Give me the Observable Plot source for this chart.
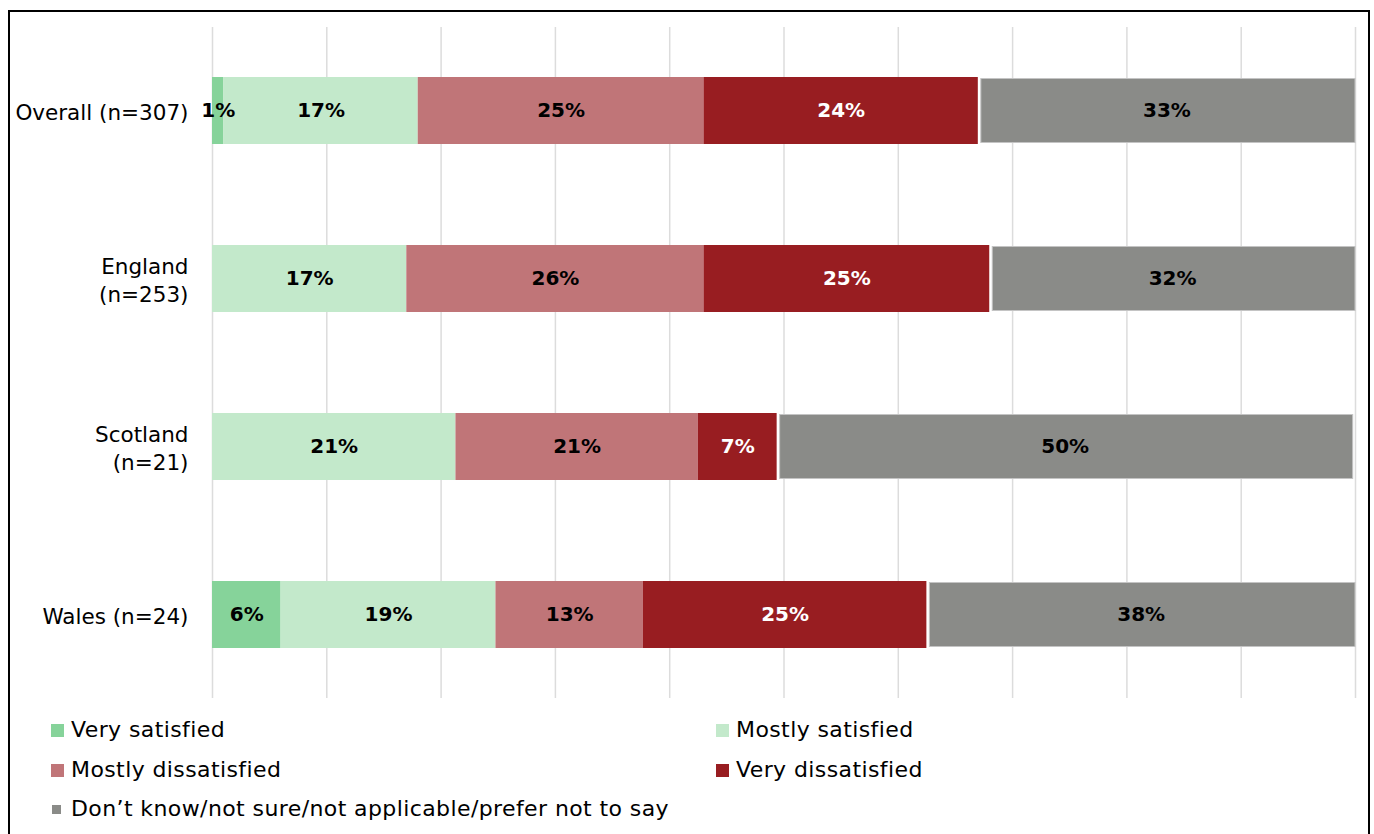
<!DOCTYPE html>
<html><head><meta charset="utf-8">
<script src="https://cdn.jsdelivr.net/npm/d3@7"></script>
<script src="https://cdn.jsdelivr.net/npm/@observablehq/plot@0.6"></script>
<style>
body{margin:0;background:#fff;font-family:"DejaVu Sans",sans-serif;}
#frame{position:absolute;left:8px;top:10px;width:1362px;height:840px;border:2px solid #000;box-sizing:border-box;}
#chart{position:absolute;left:0;top:0;}
.leg{position:absolute;font-size:22px;letter-spacing:0.4px;line-height:26px;color:#000;white-space:nowrap;transform:translateY(-50%);display:flex;align-items:center;}
.sw{display:inline-block;width:13px;height:13px;margin-right:7px;}
</style></head><body>
<div id="frame"></div>
<div id="chart"></div>
<div id="legend"></div>
<script>
const groups = ["Overall (n=307)", "England (n=253)", "Scotland (n=21)", "Wales (n=24)"];
const groupLabels = ["Overall (n=307)", "England\n(n=253)", "Scotland\n(n=21)", "Wales (n=24)"];
const responses = ["Very satisfied", "Mostly satisfied", "Mostly dissatisfied", "Very dissatisfied", "Don’t know/not sure/not applicable/prefer not to say"];
const colors = ["#86d39a", "#c3e9cb", "#c07578", "#981d21", "#8a8b88"];
const verySatisfied = [1, 0, 0, 6];
const mostlySatisfied = [17, 17, 21.3, 18.8];
const mostlyDissatisfied = [25, 26, 21.2, 12.9];
const veryDissatisfied = [24, 25, 6.9, 24.8];
const dontKnow = [33, 32, 50.4, 37.5];
const xTicks = [0, 10, 20, 30, 40, 50, 60, 70, 80, 90, 100];

const series = [verySatisfied, mostlySatisfied, mostlyDissatisfied, veryDissatisfied, dontKnow];
const rows = [];
groups.forEach((g, i) => {
  let acc = 0;
  series.forEach((s, j) => {
    const v = s[i];
    rows.push({group: g, response: responses[j], x1: acc, x2: acc + v, v});
    acc += v;
  });
});
const DK = responses[4];
const VD = responses[3];

const chart = Plot.plot({
  width: 1374, height: 705,
  marginLeft: 212, marginRight: 19, marginTop: 27, marginBottom: 7,
  style: {fontFamily: "DejaVu Sans, sans-serif", fontSize: "20px", color: "#000", background: "transparent"},
  x: {domain: [0, 100], axis: null},
  y: {domain: groups, paddingInner: 0.6, paddingOuter: 0.297, axis: null},
  color: {domain: responses, range: colors},
  marks: [
    Plot.ruleX(xTicks, {x: d => d, stroke: "#dcdcdc", strokeWidth: 1.5}),
    Plot.barX(rows.filter(r => r.v > 0 && r.response !== DK), {x1: "x1", x2: "x2", y: "group", fill: "response"}),
    Plot.barX(rows.filter(r => r.response === DK), {x1: "x1", x2: "x2", y: "group", fill: "response", insetLeft: 3, insetTop: 1.5, insetBottom: 1.5, stroke: "#c4c4c4", strokeWidth: 1}),
    Plot.ruleX(xTicks, {x: d => d, y1: null, stroke: "#000", strokeOpacity: 0.04, strokeWidth: 1.5}),
    Plot.axisY({label: null, tickSize: 0, tickPadding: 24, tickFormat: d => groupLabels[groups.indexOf(d)], fontSize: 21.5, fill: "#000", lineHeight: 1.3}),
    Plot.text(rows.filter(r => r.v > 0 && r.response !== VD), {x: d => (d.x1 + d.x2) / 2, y: "group", text: d => Math.round(d.v) + "%", fill: "#000", fontWeight: "bold", fontSize: 20}),
    Plot.text(rows.filter(r => r.v > 0 && r.response === VD), {x: d => (d.x1 + d.x2) / 2, y: "group", text: d => Math.round(d.v) + "%", fill: "#fff", fontWeight: "bold", fontSize: 20})
  ]
});
document.getElementById("chart").appendChild(chart);

const legendPos = [[51, 730], [716, 730], [51, 770], [716, 770], [51, 809]];
const legend = document.getElementById("legend");
responses.forEach((r, i) => {
  const d = document.createElement("div");
  d.className = "leg";
  d.style.left = legendPos[i][0] + "px";
  d.style.top = legendPos[i][1] + "px";
  const sw = document.createElement("span");
  sw.className = "sw";
  sw.style.background = colors[i];
  if (i === 4) { sw.style.width = "9px"; sw.style.height = "9px"; sw.style.marginLeft = "1px"; sw.style.marginRight = "10px"; }
  d.appendChild(sw);
  d.appendChild(document.createTextNode(r));
  legend.appendChild(d);
});
</script>
</body></html>
